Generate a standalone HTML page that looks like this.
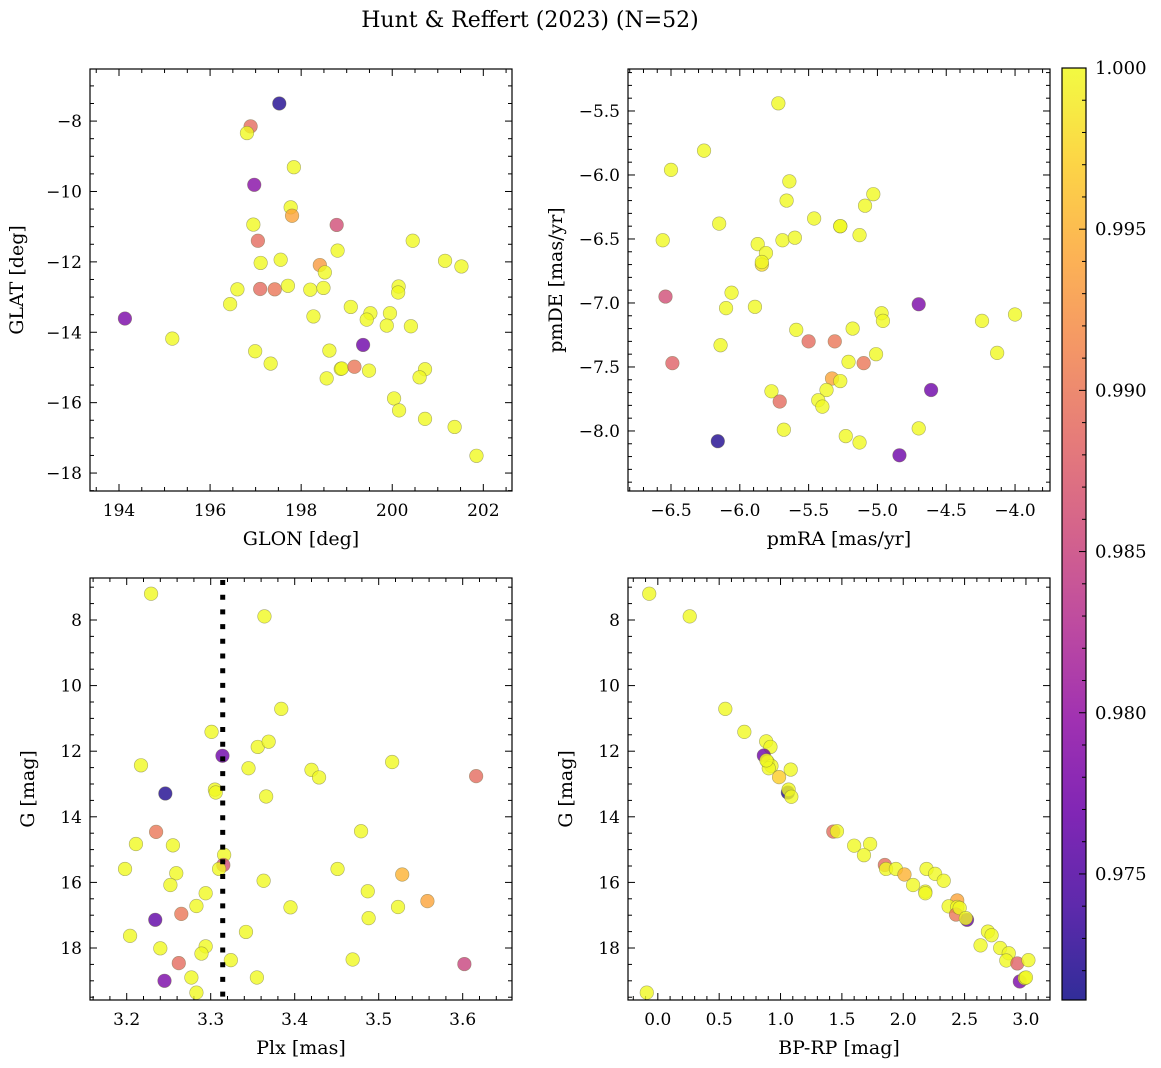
<!DOCTYPE html>
<html><head><meta charset="utf-8"><style>
html,body{margin:0;padding:0;background:#fff;}
svg{display:block;font-family:"DejaVu Serif","Liberation Serif",serif;}
</style></head><body>
<svg id="fig" width="1161" height="1068" viewBox="0 0 1161 1068" xmlns="http://www.w3.org/2000/svg">
<rect width="1161" height="1068" fill="#fff"/>
<text x="530" y="27" font-size="22" text-anchor="middle">Hunt &amp; Reffert (2023) (N=52)</text>
</svg>
<script>
// ---- data ----
const glon=[194.13,197.52,196.89,196.81,197.84,196.97,197.77,197.80,198.78,196.95,197.05,200.45,198.80,197.11,197.55,201.16,201.52,198.41,198.52,196.60,197.10,197.42,197.71,198.20,198.49,200.14,200.13,196.44,199.09,199.52,199.95,198.27,199.44,199.88,200.41,195.17,199.36,196.99,198.62,197.33,198.87,198.89,199.17,199.49,198.56,200.72,200.60,200.04,200.15,200.72,201.37,201.85];
const glat=[-13.61,-7.50,-8.15,-8.34,-9.31,-9.81,-10.45,-10.69,-10.95,-10.94,-11.40,-11.40,-11.68,-12.03,-11.94,-11.97,-12.13,-12.09,-12.30,-12.78,-12.77,-12.78,-12.68,-12.79,-12.74,-12.70,-12.87,-13.20,-13.28,-13.46,-13.46,-13.55,-13.64,-13.81,-13.83,-14.18,-14.36,-14.54,-14.52,-14.89,-15.04,-15.03,-14.98,-15.09,-15.31,-15.05,-15.28,-15.88,-16.22,-16.46,-16.69,-17.51];
const probPos=[0.978,0.972,0.989,1,1,0.979,1,0.994,0.986,1,0.989,1,1,1,1,1,1,0.993,1,1,0.989,0.990,1,1,1,1,1,1,1,1,1,1,1,1,1,1,0.977,1,1,1,1,1,0.990,1,1,1,1,1,1,1,1,1];

const pmra=[-5.72,-6.26,-6.50,-5.64,-5.03,-5.66,-5.09,-5.46,-6.15,-5.27,-5.13,-6.56,-5.69,-5.60,-5.87,-5.81,-5.84,-5.84,-6.54,-6.06,-6.10,-5.89,-4.70,-4.97,-4.96,-4.24,-4.00,-5.59,-5.18,-5.50,-5.31,-6.14,-4.13,-5.01,-5.21,-5.10,-6.49,-5.33,-5.27,-5.37,-4.61,-5.77,-5.43,-5.71,-5.40,-5.68,-4.70,-5.23,-6.16,-5.13,-4.84,-5.27];
const pmde=[-5.44,-5.81,-5.96,-6.05,-6.15,-6.20,-6.24,-6.34,-6.38,-6.40,-6.47,-6.51,-6.51,-6.49,-6.54,-6.61,-6.70,-6.68,-6.95,-6.92,-7.04,-7.03,-7.01,-7.08,-7.14,-7.14,-7.09,-7.21,-7.20,-7.30,-7.30,-7.33,-7.39,-7.40,-7.46,-7.47,-7.47,-7.59,-7.61,-7.68,-7.68,-7.69,-7.76,-7.77,-7.81,-7.99,-7.98,-8.04,-8.08,-8.09,-8.19,-6.40];
const probPm=[1,1,1,1,1,1,1,1,1,1,1,1,1,1,1,1,0.998,1,0.986,1,1,1,0.978,1,1,1,1,1,1,0.989,0.990,1,1,1,1,0.990,0.988,0.994,1,1,0.977,1,1,0.989,1,1,1,1,0.972,1,0.977,1];

const plx=[3.229,3.364,3.384,3.301,3.356,3.369,3.314,3.217,3.345,3.420,3.429,3.516,3.616,3.246,3.305,3.306,3.366,3.479,3.235,3.211,3.255,3.316,3.315,3.310,3.198,3.451,3.259,3.528,3.252,3.363,3.294,3.487,3.558,3.283,3.265,3.395,3.523,3.488,3.234,3.342,3.204,3.240,3.294,3.289,3.324,3.469,3.262,3.602,3.277,3.355,3.245,3.283];
const gPlx=[7.20,7.89,10.71,11.41,11.87,11.71,12.14,12.43,12.52,12.57,12.80,12.33,12.76,13.29,13.17,13.26,13.38,14.44,14.46,14.83,14.87,15.16,15.47,15.59,15.59,15.59,15.72,15.76,16.08,15.95,16.33,16.27,16.57,16.72,16.96,16.76,16.75,17.09,17.14,17.51,17.63,18.01,17.95,18.17,18.37,18.35,18.46,18.49,18.90,18.90,19.00,19.36];
const probPlx=[1,1,1,1,1,1,0.977,1,1,1,1,1,0.989,0.972,1,1,1,1,0.990,1,1,1,0.986,1,1,1,1,0.995,1,1,1,1,0.994,1,0.990,1,1,1,0.976,1,1,1,1,1,1,1,0.989,0.985,1,1,0.978,1];
const plxCut=3.3143;

const bprp=[-0.07,0.26,0.55,0.705,0.883,0.918,0.864,0.896,0.926,0.904,0.988,1.083,1.06,1.066,1.088,1.43,1.46,1.60,1.73,1.68,1.85,1.86,1.94,2.01,2.19,2.26,2.33,2.08,2.18,2.18,2.44,2.37,2.44,2.43,2.46,2.52,2.51,2.69,2.72,2.63,2.79,2.86,2.84,2.93,3.02,2.95,2.99,3.00,-0.09,0.885];
const gCmd=[7.20,7.89,10.71,11.41,11.70,11.87,12.13,12.33,12.45,12.52,12.79,12.56,13.26,13.17,13.39,14.45,14.44,14.88,14.83,15.17,15.47,15.59,15.59,15.76,15.59,15.74,15.95,16.08,16.28,16.33,16.55,16.73,16.75,16.98,16.78,17.14,17.09,17.50,17.61,17.92,18.00,18.16,18.38,18.47,18.37,19.02,18.92,18.90,19.36,12.28];
const probCmd=[1,1,1,1,1,1,0.977,1,1,1,0.997,1,0.972,1,1,0.989,1,1,1,1,0.989,1,1,0.995,1,1,1,1,1,1,0.994,1,1,0.990,1,0.976,1,1,1,1,1,1,1,0.988,1,0.978,1,1,1,1];

const cbTicks=[0.975,0.980,0.985,0.990,0.995,1.000];
const cbTickLabels=["0.975","0.980","0.985","0.990","0.995","1.000"];
const VMIN=0.97109, VMAX=1.0;

// ---- helpers ----
const NS="http://www.w3.org/2000/svg";
const svg=document.getElementById('fig');
function mk(tag,attrs,parent){const e=document.createElementNS(NS,tag);for(const k in attrs)e.setAttribute(k,attrs[k]);(parent||svg).appendChild(e);return e;}
const stops=[[13,8,135],[65,4,157],[106,0,168],[143,13,164],[177,42,144],[204,71,120],[225,100,98],[242,132,75],[252,166,54],[252,206,37],[240,249,33]];
function plasma(v){let t=(v-VMIN)/(VMAX-VMIN);t=Math.max(0,Math.min(1,t));const p=t*10;const i=Math.min(9,Math.floor(p));const f=p-i;const a=stops[i],b=stops[i+1];return `rgb(${Math.round(a[0]+(b[0]-a[0])*f)},${Math.round(a[1]+(b[1]-a[1])*f)},${Math.round(a[2]+(b[2]-a[2])*f)})`;}
function fmt(v,d){let s=v.toFixed(d);return s.replace('-','\u2212');}

function panel(o){
  const {x0,y0,w,h,xmin,xmax,ymin,ymax,yinv}=o;
  const sx=v=>x0+(v-xmin)/(xmax-xmin)*w;
  const sy=yinv? (v=>y0+(v-ymin)/(ymax-ymin)*h) : (v=>y0+h-(v-ymin)/(ymax-ymin)*h);
  const g=mk('g',{});
  
  
  const tg=mk('g',{stroke:'#000','stroke-width':1},g);
  const eps=1e-9;
  for(let v=Math.ceil(xmin/o.xminor-eps)*o.xminor;v<=xmax+eps;v+=o.xminor){
    const isMaj=Math.abs(v/o.xmajor-Math.round(v/o.xmajor))<1e-6;const L=isMaj?7:4;const X=sx(v);
    mk('line',{x1:X,x2:X,y1:y0+h,y2:y0+h-L},tg);mk('line',{x1:X,x2:X,y1:y0,y2:y0+L},tg);
    if(isMaj){const t=mk('text',{x:X,y:y0+h+25,'font-size':17,'text-anchor':'middle',stroke:'none'},g);t.textContent=fmt(v,o.xdec);
      }
  }
  const ylo=Math.min(ymin,ymax),yhi=Math.max(ymin,ymax);
  for(let v=Math.ceil(ylo/o.yminor-eps)*o.yminor;v<=yhi+eps;v+=o.yminor){
    const isMaj=Math.abs(v/o.ymajor-Math.round(v/o.ymajor))<1e-6;const L=isMaj?7:4;const Y=sy(v);
    mk('line',{x1:x0,x2:x0+L,y1:Y,y2:Y},tg);mk('line',{x1:x0+w,x2:x0+w-L,y1:Y,y2:Y},tg);
    if(isMaj){const t=mk('text',{x:x0-8,y:Y+6,'font-size':17,'text-anchor':'end',stroke:'none'},g);t.textContent=fmt(v,o.ydec);
      }
  }
  const pg=mk('g',{},g);
  for(let i=0;i<o.xs.length;i++){
    const c=mk('circle',{cx:sx(o.xs[i]),cy:sy(o.ys[i]),r:6.8,fill:plasma(o.p[i]),'fill-opacity':0.8,stroke:'#6b6b40','stroke-opacity':0.55,'stroke-width':0.6},pg);
    
    
  }
  if(o.vline!==undefined){
    const l=mk('line',{x1:sx(o.vline),x2:sx(o.vline),y1:y0+2,y2:y0+h,stroke:'#000','stroke-width':5,'stroke-dasharray':'5,9.7'},g);
    
    
  }
  const fr=mk('rect',{x:x0,y:y0,width:w,height:h,fill:'none',stroke:'#000','stroke-width':1.2},g);
  
  
  const xl=mk('text',{x:x0+w/2,y:y0+h+54,'font-size':19,'text-anchor':'middle'},g);xl.textContent=o.xlabel;
  
  
  const yx=x0-o.ylabOff;const yc=y0+h/2;
  const yl=mk('text',{x:yx,y:yc,'font-size':19,'text-anchor':'middle',transform:`rotate(-90 ${yx} ${yc})`},g);yl.textContent=o.ylabel;
  
  
}

panel({name:'panel-glon-glat',x0:90,y0:69,w:422,h:422,xmin:193.363,xmax:202.63,ymin:-18.51,ymax:-6.52,xmajor:2,xminor:0.5,ymajor:2,yminor:0.5,xdec:0,ydec:0,xs:glon,ys:glat,p:probPos,xlabel:'GLON [deg]',ylabel:'GLAT [deg]',ylabOff:67});
panel({name:'panel-proper-motion',x0:628,y0:69,w:422,h:422,xmin:-6.8125,xmax:-3.746,ymin:-8.469,ymax:-5.172,xmajor:0.5,xminor:0.1,ymajor:0.5,yminor:0.1,xdec:1,ydec:1,xs:pmra,ys:pmde,p:probPm,xlabel:'pmRA [mas/yr]',ylabel:'pmDE [mas/yr]',ylabOff:66});
panel({name:'panel-parallax-g',x0:90,y0:578,w:422,h:422,xmin:3.1563,xmax:3.6587,ymin:6.72,ymax:19.585,yinv:true,xmajor:0.1,xminor:0.02,ymajor:2,yminor:0.5,xdec:1,ydec:0,xs:plx,ys:gPlx,p:probPlx,xlabel:'Plx [mas]',ylabel:'G [mag]',ylabOff:56,vline:plxCut});
panel({name:'panel-cmd',x0:628,y0:578,w:422,h:422,xmin:-0.243,xmax:3.196,ymin:6.72,ymax:19.585,yinv:true,xmajor:0.5,xminor:0.1,ymajor:2,yminor:0.5,xdec:1,ydec:0,xs:bprp,ys:gCmd,p:probCmd,xlabel:'BP-RP [mag]',ylabel:'G [mag]',ylabOff:56});

// colorbar
(function(){
  const x0=1062,y0=68,w=24,h=932;
  const sy=v=>y0+(VMAX-v)/(VMAX-VMIN)*h;
  const defs=mk('defs',{});
  const lg=mk('linearGradient',{id:'cbg',x1:0,y1:1,x2:0,y2:0},defs);
  for(let i=0;i<=20;i++){const t=i/20;mk('stop',{offset:t,'stop-color':plasma(VMIN+t*(VMAX-VMIN)),'stop-opacity':0.85},lg);}
  const r=mk('rect',{x:x0,y:y0,width:w,height:h,fill:'url(#cbg)',stroke:'#000','stroke-width':1.2});
  
  
  for(let k=972;k<=1000;k++){const v=k/1000;if(v<VMIN)continue;const Y=sy(v);const maj=k%5===0;const L=maj?7:4;
    mk('line',{x1:x0+w,x2:x0+w-L,y1:Y,y2:Y,stroke:'#000','stroke-width':1});}
  for(let i=0;i<cbTicks.length;i++){const t=mk('text',{x:x0+w+9,y:sy(cbTicks[i])+6,'font-size':18});t.textContent=cbTickLabels[i];
    
    }
})();
</script>
</body></html>
